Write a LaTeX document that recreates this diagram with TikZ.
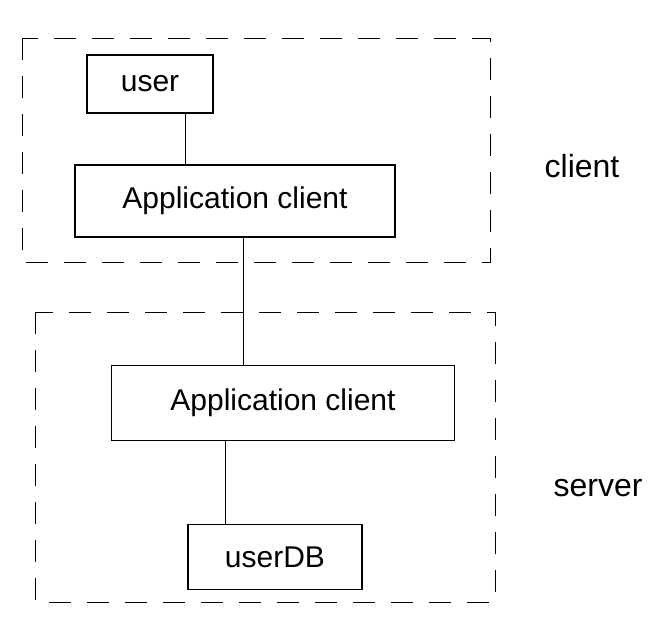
\documentclass[tikz,border=0pt]{standalone}
\usepackage{fontspec}
\setmainfont{Liberation Sans}
\begin{document}
\begin{tikzpicture}[x=1pt,y=-1pt,
  box/.style={draw, line width=1.1pt, inner sep=0pt, font=\fontsize{30}{34}\selectfont},
  zone/.style={draw, line width=1pt, dash pattern=on 22pt off 16pt},
  link/.style={draw, line width=1pt},
  lbl/.style={font=\fontsize{32}{36}\selectfont}]
\useasboundingbox (0,0) rectangle (672,629);
% zones
\draw[zone] (22,38) rectangle (490,262);
\draw[zone] (35,312) rectangle (495,602);
% nodes
\node[box, minimum width=126pt, minimum height=58pt] (user) at (150,84) {user};
\node[box, minimum width=320pt, minimum height=72pt] (appc) at (235,201) {Application client};
\node[box, minimum width=343pt, minimum height=75pt] (apps) at (283,403) {Application client};
\node[box, minimum width=174pt, minimum height=65pt] (db) at (275,557) {userDB};
% connectors
\draw[link] (185,0 |- user.south) -- (185,0 |- appc.north);
\draw[link] (243,0 |- appc.south) -- (243,0 |- apps.north);
\draw[link] (225,0 |- apps.south) -- (225,0 |- db.north);
% labels
\node[lbl] (lc) at (582,166) {client};
\node[lbl] (ls) at (598,488) {server};
\end{tikzpicture}
\end{document}
